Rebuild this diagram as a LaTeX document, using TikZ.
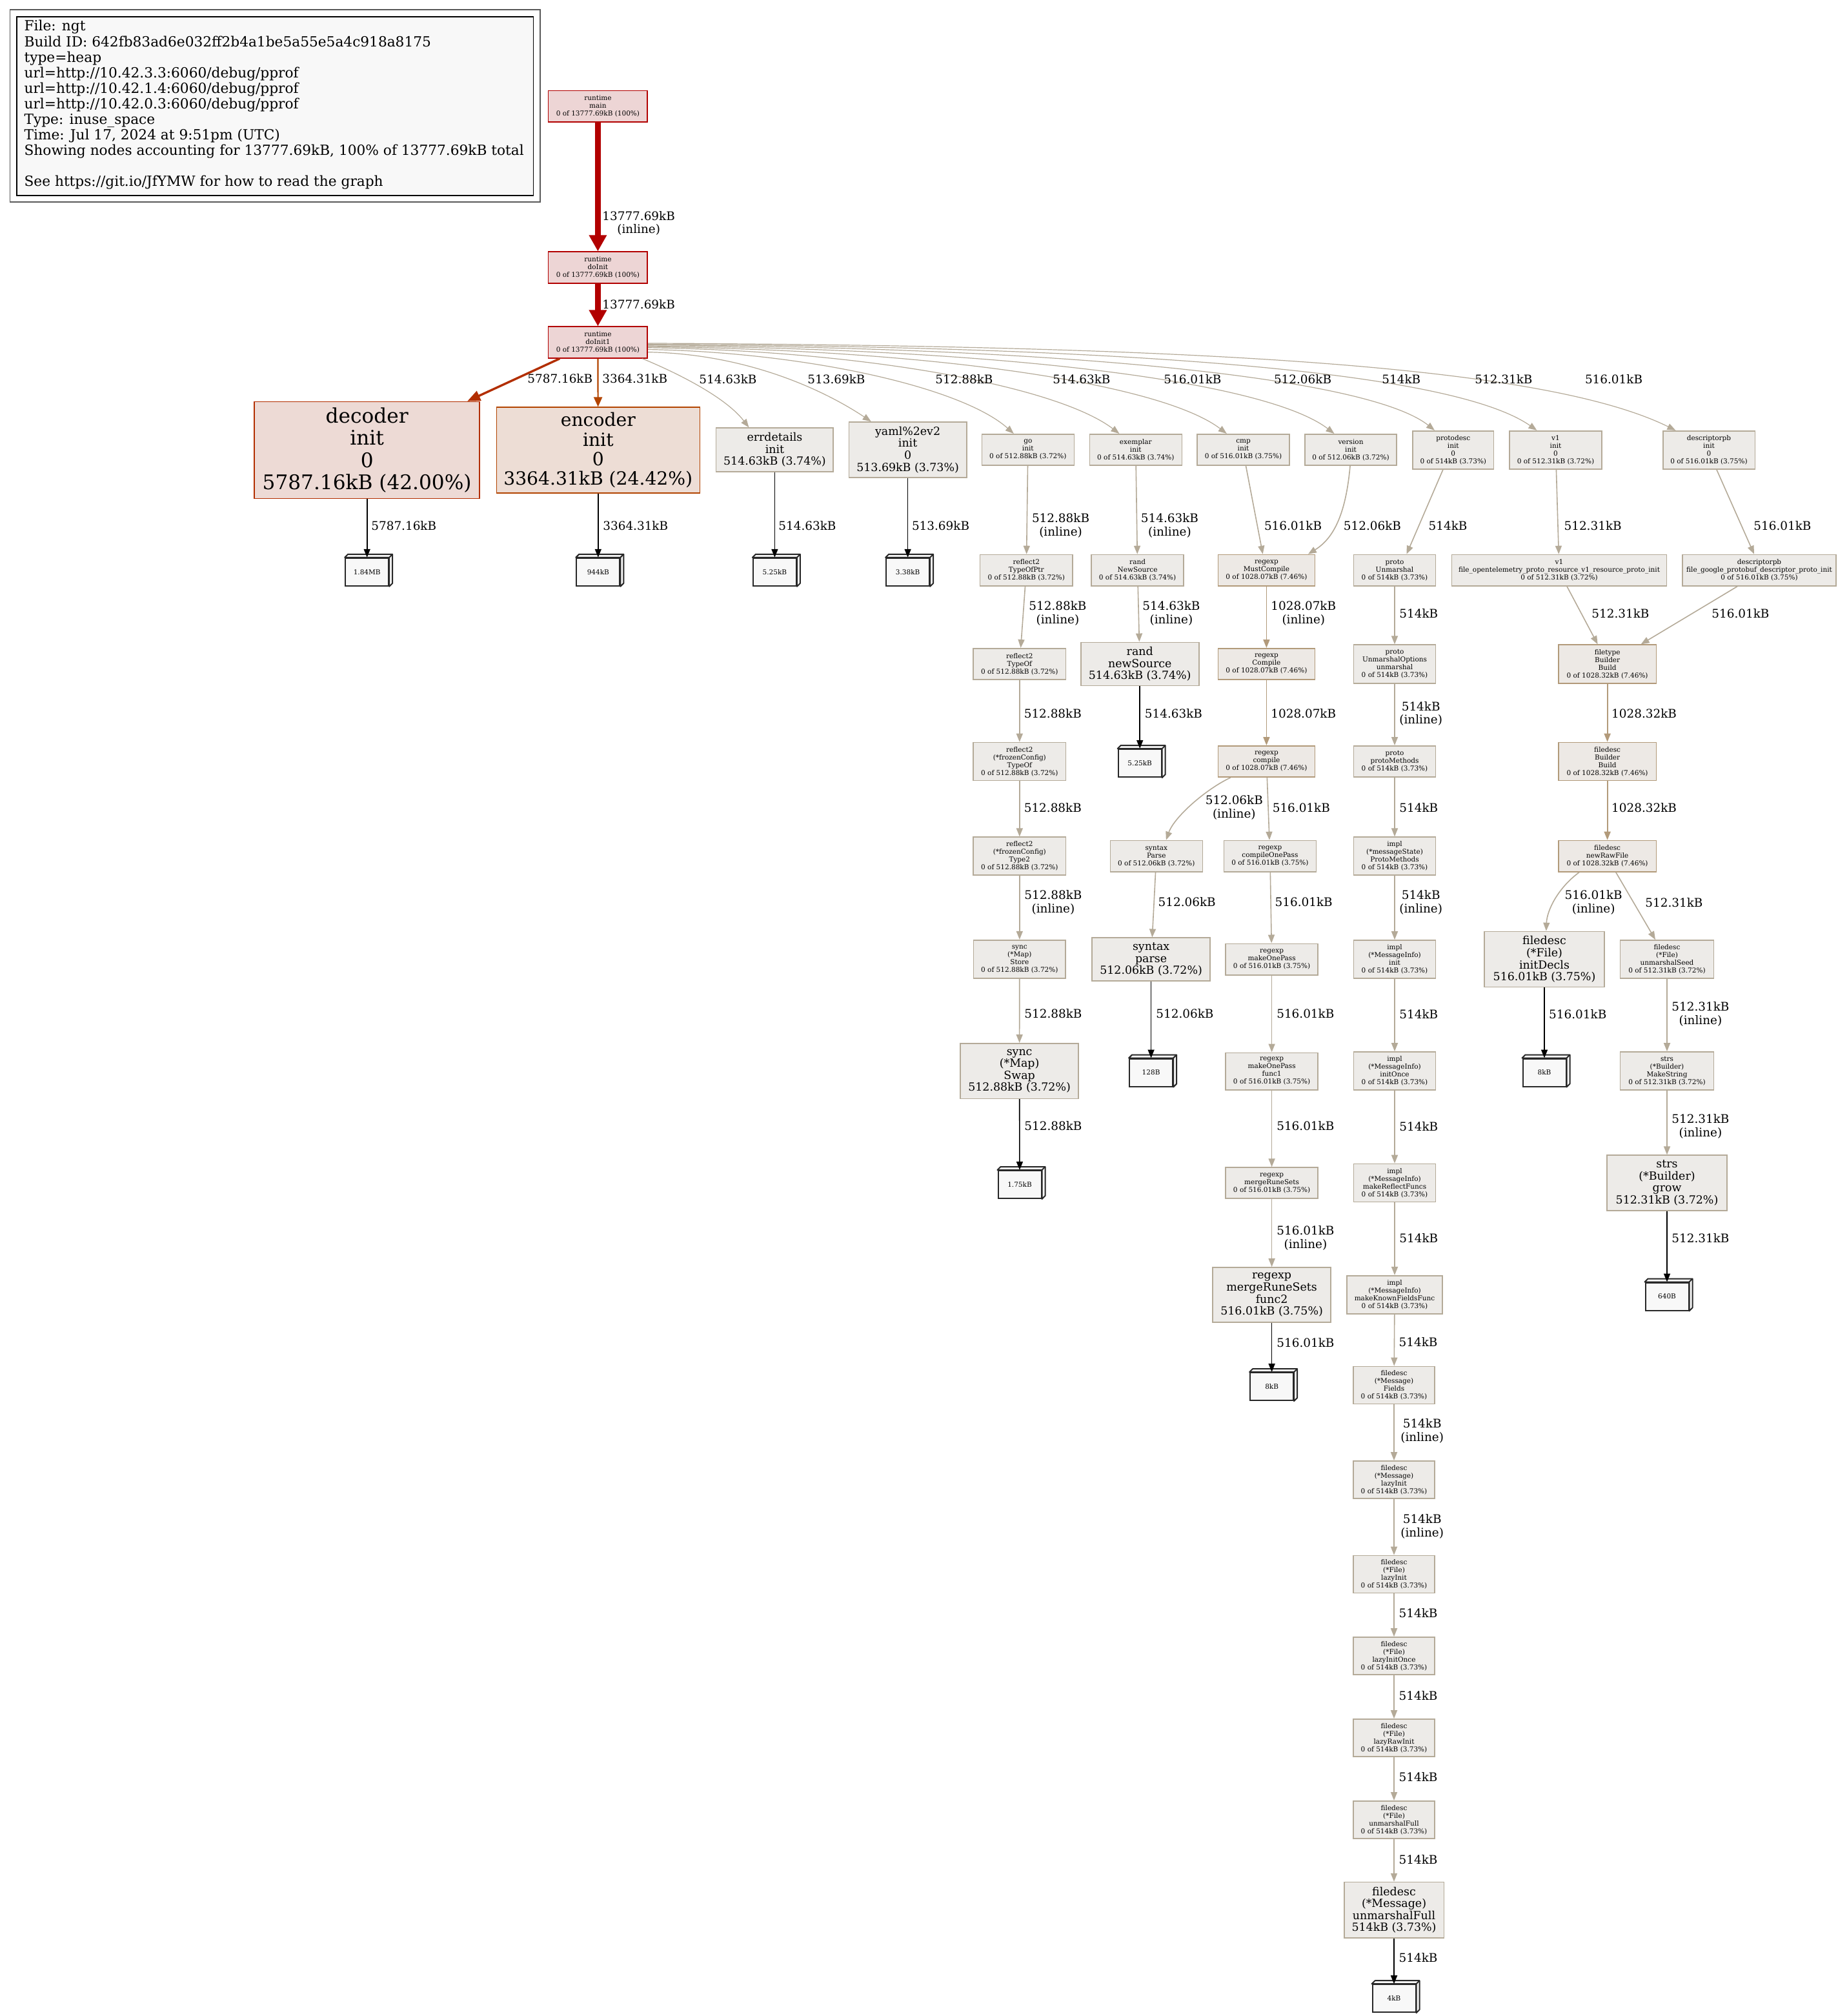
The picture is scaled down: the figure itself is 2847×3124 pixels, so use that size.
\documentclass[tikz,border=0pt]{standalone}
\usepackage{fontspec}
\setmainfont{DejaVu Serif}
\usetikzlibrary{arrows.meta, positioning, calc}
\definecolor{hotline}{RGB}{178,0,0}
\definecolor{hotfill}{RGB}{237,213,213}
\definecolor{decline}{RGB}{178,46,0}
\definecolor{decfill}{RGB}{237,218,213}
\definecolor{encline}{RGB}{178,68,0}
\definecolor{encfill}{RGB}{237,221,213}
\definecolor{warmline}{RGB}{178,154,122}
\definecolor{warmfill}{RGB}{237,233,229}
\definecolor{coolline}{RGB}{180,170,152}
\definecolor{coolfill}{RGB}{237,235,232}
\definecolor{leafline}{RGB}{40,40,40}
\definecolor{leaffill}{RGB}{248,248,248}
\newcommand{\pfsmall}{\fontsize{5.25}{6}\selectfont}
\newcommand{\pfedge}{\fontsize{9.2}{10.3}\selectfont}
\newcommand{\pfbig}{\fontsize{8.7}{9.3}\selectfont}
\newcommand{\pfdec}{\fontsize{15.6}{17.2}\selectfont}
\newcommand{\pfenc}{\fontsize{14.1}{15.1}\selectfont}
\newcommand{\pflegend}{\fontsize{10.85}{12.05}\selectfont}
\tikzset{
  fn/.style={draw=coolline, fill=coolfill, line width=0.8pt, font=\pfsmall,
             align=center, inner sep=0pt, minimum height=24.2pt},
  fn4/.style={fn, minimum height=29.5pt},
  hot/.style={fn, draw=hotline, fill=hotfill, minimum width=76.85pt, minimum height=24.3pt},
  warm/.style={fn, draw=warmline, fill=warmfill},
  bignode/.style={fn, font=\pfbig},
  leaf/.style={draw=leafline, fill=leaffill, line width=1pt, font=\pfsmall,
               inner sep=0pt, minimum width=33.5pt, minimum height=21.5pt},
  lbl/.style={font=\pfedge, align=center, inner sep=0pt, anchor=west},
  hotedge/.style={draw=hotline, line width=4.9pt, -{Triangle[length=12.5pt,width=13pt]}},
  decedge/.style={draw=decline, line width=1.7pt, -{Triangle[length=10pt,width=8pt]}},
  encedge/.style={draw=encline, line width=1.1pt, -{Triangle[length=7.5pt,width=6.5pt]}},
  cedge/.style={draw=coolline, line width=0.8pt, -{Triangle[length=6.5pt,width=5pt]}},
  fanedge/.style={cedge, line width=0.6pt},
  wedge/.style={draw=warmline, line width=0.9pt, -{Triangle[length=6.5pt,width=5pt]}},
  kedge/.style={draw=black, line width=0.8pt, -{Triangle[length=6.5pt,width=5pt]}}
}
% leaf node drawn as a 3d box
\newcommand{\leafbox}[4]{%
  \node[leaf] (#1) at (#2,#3) {#4};
  \filldraw[draw=leafline, fill=leaffill, line width=1pt, line join=round]
    (#1.north west) -- ++(2.5pt,2.5pt) -| ([shift={(2.5pt,2.5pt)}]#1.south east)
    -- (#1.south east) -- (#1.north east) -- cycle;
  \draw[leafline, line width=1pt] (#1.north east) -- ++(2.5pt,2.5pt);}

\begin{document}
\begin{tikzpicture}[x=0.5pt, y=-0.5pt]
  \useasboundingbox (0,0) rectangle (2847,3124);

  % legend
  \node[draw=black!65, line width=0.8pt, minimum width=410.8pt, minimum height=148.85pt] (legendframe) at (426.2,164.15) {};
  \node[draw=black, fill=leaffill, line width=0.8pt, minimum width=400.2pt, minimum height=138.5pt] (legendbox) at (426.2,164.5) {};
  \node[font=\pflegend, align=left, anchor=west, inner sep=0pt] (legendtext) at (37.2,162.6)
    {File: ngt\\
     Build ID: 642fb83ad6e032ff2b4a1be5a55e5a4c918a8175\\
     type=heap\\
     url=http://10.42.3.3:6060/debug/pprof\\
     url=http://10.42.1.4:6060/debug/pprof\\
     url=http://10.42.0.3:6060/debug/pprof\\
     Type: inuse\_space\\
     Time: Jul 17, 2024 at 9:51pm (UTC)\\
     Showing nodes accounting for 13777.69kB, 100\% of 13777.69kB total\\[12.05pt]
     See https://git.io/JfYMW for how to read the graph};

  % runtime chain
  \node[hot] (main) at (926.4,164.7) {runtime\\main\\0 of 13777.69kB (100\%)};
  \node[hot] (doInit) at (926.4,414.5) {runtime\\doInit\\0 of 13777.69kB (100\%)};
  \node[hot] (doInit1) at (926.4,530.6) {runtime\\doInit1\\0 of 13777.69kB (100\%)};
  \draw[hotedge] (main) -- (doInit);
  \draw[hotedge] (doInit) -- (doInit1);
  \node[lbl] (l1) at (933,345.8) {13777.69kB\\(inline)};
  \node[lbl] (l2) at (933,471.5) {13777.69kB};

  % init row
  \node[fn, draw=decline, fill=decfill, font=\pfdec, minimum width=174.5pt, minimum height=75pt] (decoder) at (568.7,697.5)
    {decoder\\init\\0\\5787.16kB (42.00\%)};
  \node[fn, draw=encline, fill=encfill, font=\pfenc, minimum width=157.5pt, minimum height=66.5pt] (encoder) at (926.8,697.7)
    {encoder\\init\\0\\3364.31kB (24.42\%)};
  \node[bignode, minimum width=90.8pt, minimum height=33.85pt] (errdetails) at (1200.4,697)
    {errdetails\\init\\514.63kB (3.74\%)};
  \node[bignode, minimum width=91.3pt, minimum height=43pt] (yaml) at (1406.6,697)
    {yaml\%2ev2\\init\\0\\513.69kB (3.73\%)};
  \node[fn, minimum width=71.5pt] (goinit) at (1592.8,697) {go\\init\\0 of 512.88kB (3.72\%)};
  \node[fn, minimum width=71.5pt] (exemplar) at (1759.8,697) {exemplar\\init\\0 of 514.63kB (3.74\%)};
  \node[fn, minimum width=71.5pt] (cmp) at (1926.5,697) {cmp\\init\\0 of 516.01kB (3.75\%)};
  \node[fn, minimum width=71.25pt] (version) at (2093,697) {version\\init\\0 of 512.06kB (3.72\%)};
  \node[fn4, minimum width=62.8pt] (protodesc) at (2251.8,697.2) {protodesc\\init\\0\\0 of 514kB (3.73\%)};
  \node[fn4, minimum width=71.5pt] (v1init) at (2410.5,697.2) {v1\\init\\0\\0 of 512.31kB (3.72\%)};
  \node[fn4, minimum width=71.3pt] (descinit) at (2648,697.2) {descriptorpb\\init\\0\\0 of 516.01kB (3.75\%)};

  \draw[decedge] (doInit1.-157) -- (decoder.26);
  \draw[encedge] (doInit1) -- (encoder);
  \draw[fanedge] (doInit1.-20) .. controls (1030,570) and (1120,610) .. ([xshift=-20pt]errdetails.north);
  \draw[fanedge] (doInit1.-11) .. controls (1150,548) and (1270,600) .. ([xshift=-28.4pt]yaml.north);
  \draw[fanedge] (doInit1.-8) .. controls (1250,546) and (1490,600) .. ([xshift=-11pt]goinit.north);
  \draw[fanedge] (doInit1.-6) .. controls (1350,544) and (1640,600) .. ([xshift=-12.7pt]exemplar.north);
  \draw[fanedge] (doInit1.-5) .. controls (1450,542) and (1800,595) .. ([xshift=-12.85pt]cmp.north);
  \draw[fanedge] (doInit1.-4) .. controls (1550,540) and (1960,590) .. ([xshift=-12.75pt]version.north);
  \draw[fanedge] (doInit1.-3) .. controls (1650,538) and (2120,585) .. ([xshift=-14.4pt]protodesc.north);
  \draw[fanedge] (doInit1.-2) .. controls (1750,537) and (2250,575) .. ([xshift=-14.55pt]v1init.north);
  \draw[fanedge] (doInit1.-1) .. controls (1900,536) and (2400,570) .. ([xshift=-25.8pt]descinit.north);
  \node[lbl] (l3) at (817,586.7) {5787.16kB};
  \node[lbl] (l4) at (933,586.7) {3364.31kB};
  \node[lbl] (l5) at (1083,587.3) {514.63kB};
  \node[lbl] (l6) at (1251,587.3) {513.69kB};
  \node[lbl] (l7) at (1449,587.3) {512.88kB};
  \node[lbl] (l8) at (1631,587.3) {514.63kB};
  \node[lbl] (l9) at (1803,587.3) {516.01kB};
  \node[lbl] (l10) at (1973.6,587.3) {512.06kB};
  \node[lbl] (l11) at (2141,587.3) {514kB};
  \node[lbl] (l12) at (2285,587.3) {512.31kB};
  \node[lbl] (l13) at (2455.6,587.3) {516.01kB};

  % leaves of the init row
  \leafbox{leafdec}{568.7}{886.3}{1.84MB}
  \leafbox{leafenc}{926.8}{886.3}{944kB}
  \leafbox{leaferr}{1200.4}{886.3}{5.25kB}
  \leafbox{leafyaml}{1406.6}{886.3}{3.38kB}
  \draw[kedge] (decoder) -- (leafdec);
  \draw[kedge] (encoder) -- (leafenc);
  \draw[kedge] (errdetails) -- (leaferr);
  \draw[kedge] (yaml) -- (leafyaml);
  \node[lbl] (l14) at (575,814.3) {5787.16kB};
  \node[lbl] (l15) at (934,814.3) {3364.31kB};
  \node[lbl] (l16) at (1206,814.3) {514.63kB};
  \node[lbl] (l17) at (1412.6,814.3) {513.69kB};

  % reflect2 / sync column
  \node[fn, minimum width=71.75pt] (typeofptr) at (1590.3,883.7) {reflect2\\TypeOfPtr\\0 of 512.88kB (3.72\%)};
  \node[fn, minimum width=71.6pt] (typeof) at (1579.8,1029) {reflect2\\TypeOf\\0 of 512.88kB (3.72\%)};
  \node[fn4, minimum width=71.6pt] (fctypeof) at (1579.8,1180) {reflect2\\(*frozenConfig)\\TypeOf\\0 of 512.88kB (3.72\%)};
  \node[fn4, minimum width=71.6pt] (type2) at (1579.8,1326.7) {reflect2\\(*frozenConfig)\\Type2\\0 of 512.88kB (3.72\%)};
  \node[fn4, minimum width=71.2pt] (store) at (1579.8,1486.2) {sync\\(*Map)\\Store\\0 of 512.88kB (3.72\%)};
  \node[bignode, minimum width=91.5pt, minimum height=42.75pt] (swap) at (1579.6,1659.6) {sync\\(*Map)\\Swap\\512.88kB (3.72\%)};
  \leafbox{leafswap}{1580}{1835.5}{1.75kB}
  \draw[cedge] (goinit) -- (typeofptr);
  \draw[cedge] (typeofptr) -- (typeof);
  \draw[cedge] (typeof) -- (fctypeof);
  \draw[cedge] (fctypeof) -- (type2);
  \draw[cedge] (type2) -- (store);
  \draw[cedge] (store) -- (swap);
  \draw[kedge] (swap) -- (leafswap);
  \node[lbl] (l18) at (1598.6,814.4) {512.88kB\\(inline)};
  \node[lbl] (l19) at (1594,950.6) {512.88kB\\(inline)};
  \node[lbl] (l20) at (1586.4,1105.3) {512.88kB};
  \node[lbl] (l21) at (1586.4,1251.5) {512.88kB};
  \node[lbl] (l22) at (1587,1398.4) {512.88kB\\(inline)};
  \node[lbl] (l23) at (1587,1571) {512.88kB};
  \node[lbl] (l24) at (1587,1744.9) {512.88kB};

  % rand column
  \node[fn, minimum width=71.5pt] (newsrc) at (1762.6,883.7) {rand\\NewSource\\0 of 514.63kB (3.74\%)};
  \node[bignode, minimum width=91.5pt, minimum height=33.65pt] (newsource) at (1766.2,1029) {rand\\newSource\\514.63kB (3.74\%)};
  \leafbox{leafrand}{1766.2}{1182.5}{5.25kB}
  \draw[cedge] (exemplar) -- (newsrc);
  \draw[cedge] (newsrc) -- (newsource);
  \draw[kedge] (newsource) -- (leafrand);
  \node[lbl] (l25) at (1767.5,814.4) {514.63kB\\(inline)};
  \node[lbl] (l26) at (1770,950.6) {514.63kB\\(inline)};
  \node[lbl] (l27) at (1773.5,1105.3) {514.63kB};

  % regexp column
  \node[warm, minimum width=75pt] (mustcompile) at (1962.4,883.7) {regexp\\MustCompile\\0 of 1028.07kB (7.46\%)};
  \node[warm, minimum width=75pt] (compileR) at (1962.4,1029) {regexp\\Compile\\0 of 1028.07kB (7.46\%)};
  \node[warm, minimum width=75pt] (compilel) at (1962.4,1180) {regexp\\compile\\0 of 1028.07kB (7.46\%)};
  \node[fn, minimum width=71.5pt] (parseS) at (1791.8,1326.7) {syntax\\Parse\\0 of 512.06kB (3.72\%)};
  \node[bignode, minimum width=91.4pt, minimum height=33.25pt] (parse) at (1783.6,1486.5) {syntax\\parse\\512.06kB (3.72\%)};
  \leafbox{leafparse}{1783.6}{1662}{128B}
  \node[fn, minimum width=71.5pt] (onepass) at (1967.9,1326.7) {regexp\\compileOnePass\\0 of 516.01kB (3.75\%)};
  \node[fn, minimum width=71.4pt] (makeonepass) at (1970.6,1486.5) {regexp\\makeOnePass\\0 of 516.01kB (3.75\%)};
  \node[fn, minimum width=71.4pt, minimum height=28.7pt] (func1) at (1970.6,1660) {regexp\\makeOnePass\\func1\\0 of 516.01kB (3.75\%)};
  \node[fn, minimum width=71.4pt, minimum height=23.9pt] (mergerunesets) at (1970.6,1833) {regexp\\mergeRuneSets\\0 of 516.01kB (3.75\%)};
  \node[bignode, minimum width=91.5pt, minimum height=42.5pt] (func2) at (1970.6,2006.5) {regexp\\mergeRuneSets\\func2\\516.01kB (3.75\%)};
  \leafbox{leafregexp}{1970.6}{2148.6}{8kB}
  \draw[cedge] ([xshift=2pt]cmp.south) -- ([xshift=-2.85pt]mustcompile.north);
  \draw[cedge] ([xshift=-0.5pt]version.south) .. controls (2085,800) and (2065,835) .. ([xshift=-5.65pt]mustcompile.north east);
  \draw[wedge] (mustcompile) -- (compileR);
  \draw[wedge] (compileR) -- (compilel);
  \draw[cedge] ([xshift=-27.85pt]compilel.south) .. controls (1870,1222) and (1820,1265) .. ([xshift=7.5pt]parseS.north);
  \draw[cedge] (compilel) -- (onepass);
  \draw[cedge] (parseS) -- (parse);
  \draw[kedge] (parse) -- (leafparse);
  \draw[cedge] (onepass) -- (makeonepass);
  \draw[cedge] (makeonepass) -- (func1);
  \draw[cedge] (func1) -- (mergerunesets);
  \draw[cedge] (mergerunesets) -- (func2);
  \draw[kedge] (func2) -- (leafregexp);
  \node[lbl] (l28) at (1958.6,814.4) {516.01kB};
  \node[lbl] (l29) at (2081.5,814.4) {512.06kB};
  \node[lbl] (l30) at (1969,950.6) {1028.07kB\\(inline)};
  \node[lbl] (l31) at (1969,1105.3) {1028.07kB};
  \node[lbl] (l32) at (1867.4,1251.2) {512.06kB\\(inline)};
  \node[lbl] (l33) at (1971.4,1251.5) {516.01kB};
  \node[lbl] (l34) at (1794.3,1398) {512.06kB};
  \node[lbl] (l35) at (1975.3,1398) {516.01kB};
  \node[lbl] (l36) at (1791,1571) {512.06kB};
  \node[lbl] (l37) at (1977.9,1571) {516.01kB};
  \node[lbl] (l38) at (1977.9,1744.9) {516.01kB};
  \node[lbl] (l39) at (1978,1918.2) {516.01kB\\(inline)};
  \node[lbl] (l40) at (1978,2080.6) {516.01kB};

  % proto column
  \node[fn, minimum width=63.65pt] (unmarshal) at (2161,883.7) {proto\\Unmarshal\\0 of 514kB (3.73\%)};
  \node[fn4, minimum width=63.65pt, minimum height=29.85pt] (unmarshalopts) at (2161,1029) {proto\\UnmarshalOptions\\unmarshal\\0 of 514kB (3.73\%)};
  \node[fn, minimum width=63.65pt] (protomethods) at (2161,1180) {proto\\protoMethods\\0 of 514kB (3.73\%)};
  \node[fn4, minimum width=63.65pt] (msgstate) at (2161,1326.7) {impl\\(*messageState)\\ProtoMethods\\0 of 514kB (3.73\%)};
  \node[fn4, minimum width=63.65pt] (miinit) at (2161,1486.5) {impl\\(*MessageInfo)\\init\\0 of 514kB (3.73\%)};
  \node[fn4, minimum width=63.65pt] (initonce) at (2161,1659.5) {impl\\(*MessageInfo)\\initOnce\\0 of 514kB (3.73\%)};
  \node[fn4, minimum width=63.65pt] (reflectfuncs) at (2161,1833) {impl\\(*MessageInfo)\\makeReflectFuncs\\0 of 514kB (3.73\%)};
  \node[fn4, minimum width=74pt] (knownfields) at (2161,2006.2) {impl\\(*MessageInfo)\\makeKnownFieldsFunc\\0 of 514kB (3.73\%)};
  \foreach \nm/\yy/\txt in {fields/2146.4/{(*Message)\\Fields},
                            msglazy/2293/{(*Message)\\lazyInit},
                            filelazy/2439.5/{(*File)\\lazyInit},
                            lazyonce/2566/{(*File)\\lazyInitOnce},
                            lazyraw/2693/{(*File)\\lazyRawInit},
                            fileunmarshal/2819.8/{(*File)\\unmarshalFull}}
    \node[fn, minimum width=63pt, minimum height=29pt] (\nm) at (2160,\yy) {filedesc\\\txt\\0 of 514kB (3.73\%)};
  \node[bignode, minimum width=77.3pt, minimum height=43.2pt] (msgunmarshal) at (2160,2959.8) {filedesc\\(*Message)\\unmarshalFull\\514kB (3.73\%)};
  \leafbox{leafproto}{2160}{3096.7}{4kB}
  \draw[cedge] ([xshift=-7.9pt]protodesc.south) -- ([xshift=9.25pt]unmarshal.north);
  \foreach \a/\b in {unmarshal/unmarshalopts, unmarshalopts/protomethods, protomethods/msgstate,
                     msgstate/miinit, miinit/initonce, initonce/reflectfuncs, reflectfuncs/knownfields,
                     knownfields/fields, fields/msglazy, msglazy/filelazy, filelazy/lazyonce,
                     lazyonce/lazyraw, lazyraw/fileunmarshal, fileunmarshal/msgunmarshal}
    \draw[cedge] (\a) -- (\b);
  \draw[kedge] (msgunmarshal) -- (leafproto);
  \node[lbl] (l41) at (2213.3,814.4) {514kB};
  \node[lbl] (l42) at (2168,950.3) {514kB};
  \node[lbl] (l43) at (2168,1105.8) {514kB\\(inline)};
  \node[lbl] (l44) at (2168,1251.5) {514kB};
  \node[lbl] (l45) at (2168,1398.7) {514kB\\(inline)};
  \node[lbl] (l46) at (2168,1571.2) {514kB};
  \node[lbl] (l47) at (2168,1745.3) {514kB};
  \node[lbl] (l48) at (2168,1918.4) {514kB};
  \node[lbl] (l49) at (2167.3,2080) {514kB};
  \node[lbl] (l50) at (2170,2217.6) {514kB\\(inline)};
  \node[lbl] (l51) at (2170,2365.5) {514kB\\(inline)};
  \node[lbl] (l52) at (2167.3,2499.7) {514kB};
  \node[lbl] (l53) at (2167.3,2627.6) {514kB};
  \node[lbl] (l54) at (2167.3,2754) {514kB};
  \node[lbl] (l55) at (2167.3,2881.3) {514kB};
  \node[lbl] (l56) at (2167.3,3034) {514kB};

  % descriptor / filedesc column
  \node[fn, minimum width=166.4pt] (v1file) at (2416,883.7) {v1\\file\_opentelemetry\_proto\_resource\_v1\_resource\_proto\_init\\0 of 512.31kB (3.72\%)};
  \node[fn, minimum width=119pt] (descfile) at (2726,883.7) {descriptorpb\\file\_google\_protobuf\_descriptor\_proto\_init\\0 of 516.01kB (3.75\%)};
  \node[warm, minimum width=75.85pt, minimum height=29.85pt] (filetype) at (2490.6,1029) {filetype\\Builder\\Build\\0 of 1028.32kB (7.46\%)};
  \node[warm, minimum width=75.85pt, minimum height=29.5pt] (fdbuild) at (2490.6,1180) {filedesc\\Builder\\Build\\0 of 1028.32kB (7.46\%)};
  \node[warm, minimum width=75.85pt] (newrawfile) at (2490.6,1326.7) {filedesc\\newRawFile\\0 of 1028.32kB (7.46\%)};
  \node[bignode, minimum width=92.8pt, minimum height=43pt] (initdecls) at (2393,1486.5) {filedesc\\(*File)\\initDecls\\516.01kB (3.75\%)};
  \leafbox{leafdecls}{2393}{1662}{8kB}
  \node[fn4, minimum width=72.6pt] (unmarshalseed) at (2583,1486.5) {filedesc\\(*File)\\unmarshalSeed\\0 of 512.31kB (3.72\%)};
  \node[fn4, minimum width=72.6pt] (makestring) at (2583,1659.5) {strs\\(*Builder)\\MakeString\\0 of 512.31kB (3.72\%)};
  \node[bignode, minimum width=93pt, minimum height=42.8pt] (grow) at (2583,1833) {strs\\(*Builder)\\grow\\512.31kB (3.72\%)};
  \leafbox{leafgrow}{2583}{2009}{640B}
  \draw[cedge] (v1init) -- (v1file);
  \draw[cedge] ([xshift=5.9pt]descinit.south) -- ([xshift=-4pt]descfile.north);
  \draw[cedge] ([xshift=6pt]v1file.south) -- ([xshift=-7.5pt]filetype.north);
  \draw[cedge] ([xshift=-17pt]descfile.south) -- ([xshift=26pt]filetype.north);
  \draw[wedge] (filetype) -- (fdbuild);
  \draw[wedge] (fdbuild) -- (newrawfile);
  \draw[cedge] ([xshift=-21.8pt]newrawfile.south) .. controls (2415,1375) and (2397,1410) .. ([xshift=1.4pt]initdecls.north);
  \draw[cedge] ([xshift=6.6pt]newrawfile.south) -- ([xshift=-9pt]unmarshalseed.north);
  \draw[kedge] (initdecls) -- (leafdecls);
  \draw[cedge] (unmarshalseed) -- (makestring);
  \draw[cedge] (makestring) -- (grow);
  \draw[kedge] (grow) -- (leafgrow);
  \node[lbl] (l57) at (2423.2,814.4) {512.31kB};
  \node[lbl] (l58) at (2717,814.4) {516.01kB};
  \node[lbl] (l59) at (2466,950.3) {512.31kB};
  \node[lbl] (l60) at (2652,950.3) {516.01kB};
  \node[lbl] (l61) at (2496.8,1105.3) {1028.32kB};
  \node[lbl] (l62) at (2496.8,1251.5) {1028.32kB};
  \node[lbl] (l63) at (2424.2,1398.7) {516.01kB\\(inline)};
  \node[lbl] (l64) at (2549,1398.5) {512.31kB};
  \node[lbl] (l65) at (2399.8,1571.2) {516.01kB};
  \node[lbl] (l66) at (2590,1571.3) {512.31kB\\(inline)};
  \node[lbl] (l67) at (2590,1745.4) {512.31kB\\(inline)};
  \node[lbl] (l68) at (2590,1918.4) {512.31kB};
\end{tikzpicture}
\end{document}
